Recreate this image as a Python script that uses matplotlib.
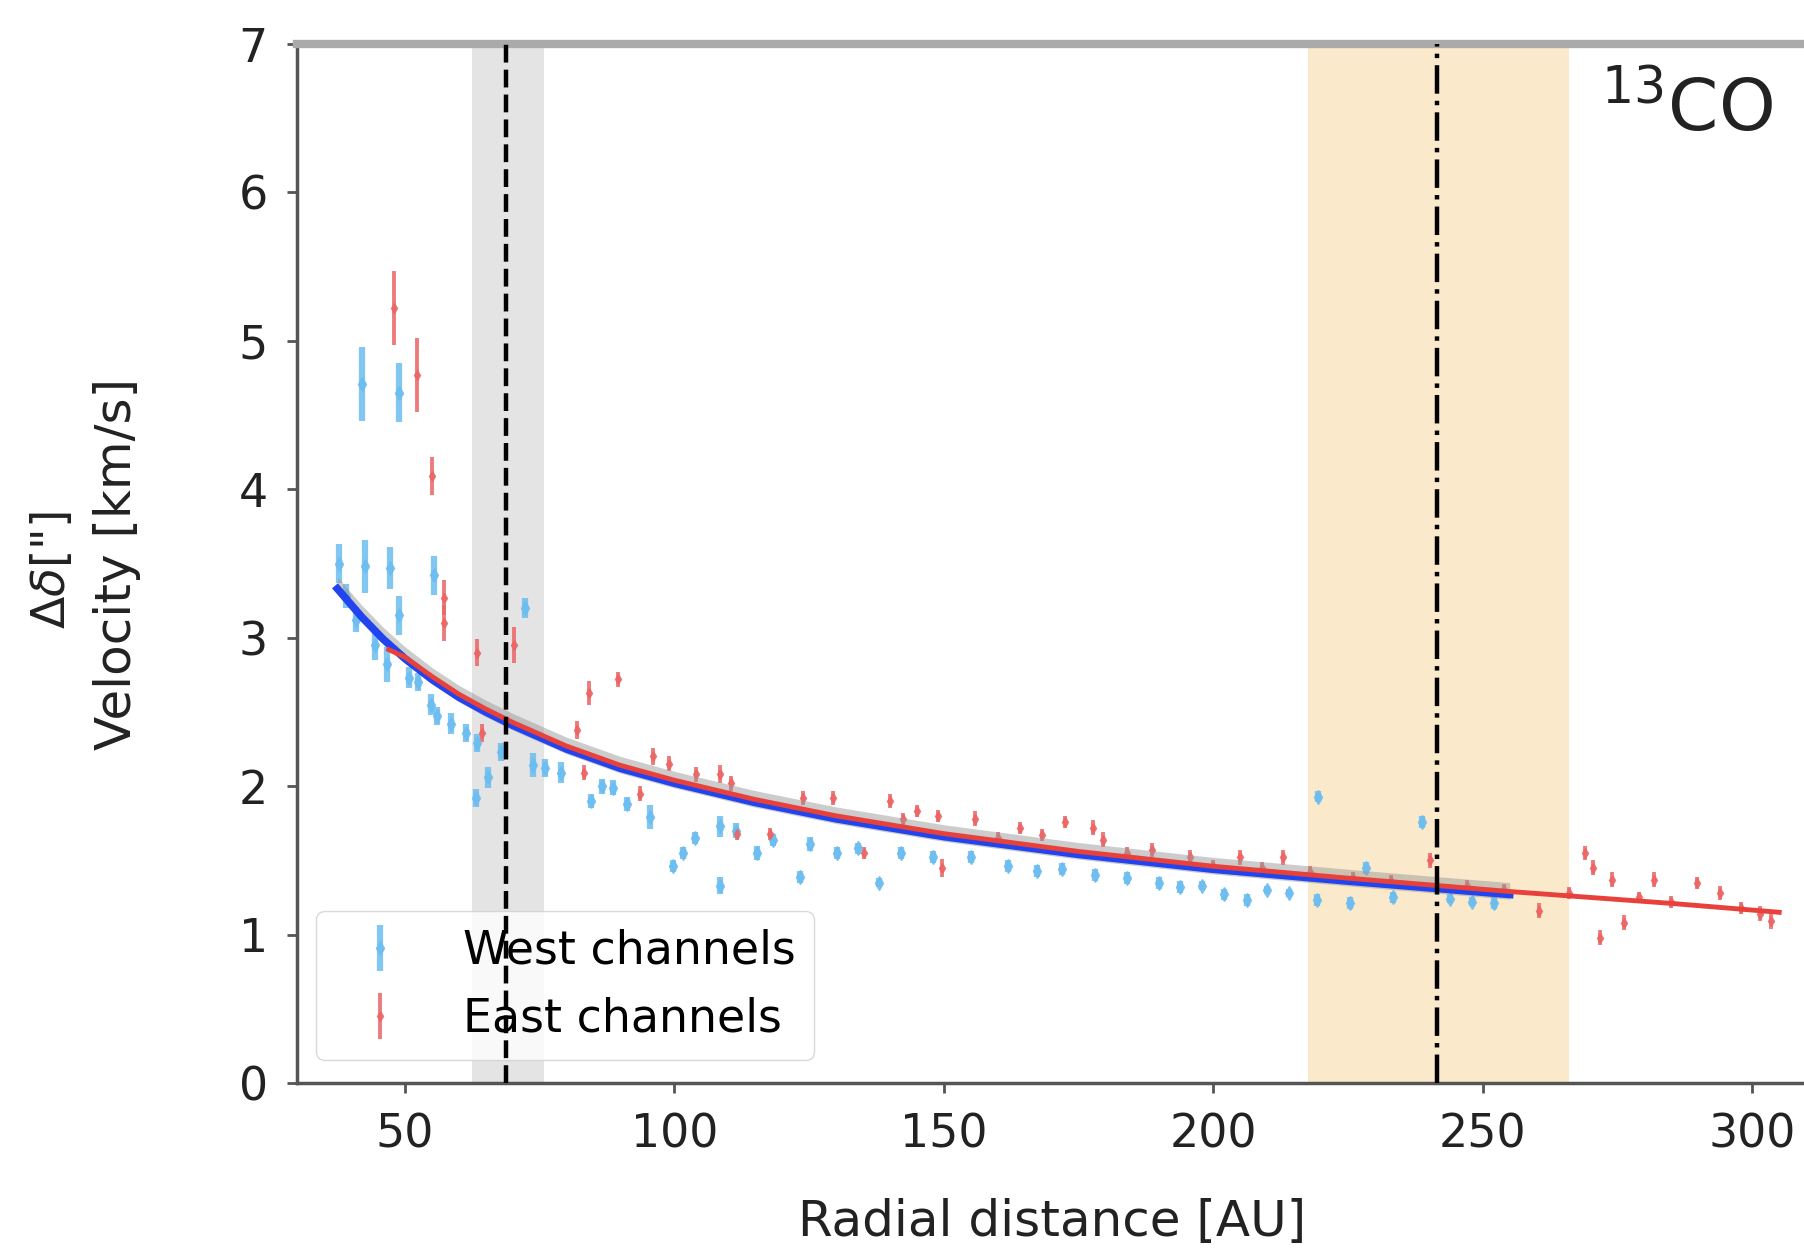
import matplotlib
matplotlib.use("Agg")
import matplotlib.pyplot as plt

plt.rcParams['font.family'] = ['DejaVu Sans']

# West channels: radius [AU], velocity [km/s], error
west_r = [37.8, 39.0, 41.0, 42.1, 42.6, 44.5, 46.7, 47.2, 48.9, 48.9, 50.8, 52.5, 54.8, 55.5,
          56.0, 58.6, 61.3, 63.2, 63.4, 65.4, 67.8, 72.3, 73.7, 76.0, 79.0, 84.6, 86.5, 88.6,
          91.3, 95.5, 99.8, 101.6, 103.8, 108.5, 108.5, 111.5, 115.3, 118.4, 123.3, 125.2,
          130.2, 134.0, 137.9, 142.0, 148.0, 155.0, 162.0, 167.3, 172.0, 178.0, 184.0, 190.0,
          193.8, 198.0, 202.0, 206.2, 210.0, 214.0, 219.4, 219.2, 225.4, 228.4, 233.3, 238.7,
          244.0, 248.0, 252.0]
west_v = [3.50, 3.28, 3.12, 4.71, 3.48, 2.95, 2.82, 3.47, 4.65, 3.15, 2.73, 2.70, 2.55, 3.42,
          2.47, 2.42, 2.36, 1.92, 2.29, 2.06, 2.23, 3.20, 2.14, 2.12, 2.09, 1.90, 2.00, 1.99,
          1.88, 1.79, 1.46, 1.55, 1.65, 1.73, 1.33, 1.70, 1.55, 1.64, 1.39, 1.61,
          1.55, 1.58, 1.35, 1.55, 1.52, 1.52, 1.46, 1.43, 1.44, 1.40, 1.38, 1.35,
          1.32, 1.33, 1.27, 1.23, 1.30, 1.28, 1.93, 1.23, 1.21, 1.45, 1.25, 1.76,
          1.24, 1.22, 1.21]
west_err = [0.13, 0.08, 0.08, 0.25, 0.18, 0.10, 0.12, 0.14, 0.20, 0.13, 0.07, 0.06, 0.07, 0.13,
            0.06, 0.07, 0.06, 0.06, 0.06, 0.07, 0.06, 0.07, 0.08, 0.06, 0.07, 0.05, 0.05, 0.05,
            0.05, 0.08, 0.04, 0.04, 0.04, 0.07, 0.06, 0.05, 0.05, 0.04, 0.04, 0.05,
            0.04, 0.04, 0.03, 0.04, 0.04, 0.04, 0.04, 0.04, 0.04, 0.04, 0.04, 0.04,
            0.04, 0.03, 0.04, 0.04, 0.03, 0.03, 0.04, 0.04, 0.04, 0.04, 0.04, 0.04,
            0.03, 0.03, 0.04]

# East channels
east_r = [48.0, 52.3, 55.0, 57.3, 57.3, 63.4, 64.3, 70.3, 82.0, 83.2, 84.2, 89.6, 93.6, 96.0,
          99.0, 104.0, 108.5, 110.5, 111.6, 117.8, 123.9, 129.4, 135.2, 140.0, 142.4, 145.0,
          148.9, 149.7, 155.8, 160.0, 164.1, 168.2, 172.5, 177.7, 179.5, 184.0, 188.7, 195.7,
          200.0, 205.0, 209.0, 212.9, 218.0, 226.0, 233.0, 240.3, 247.0, 254.0, 260.4, 266.0,
          269.0, 270.4, 271.7, 274.0, 276.2, 279.0, 281.8, 285.0, 289.7, 294.0, 298.0, 301.5,
          303.5]
east_v = [5.22, 4.77, 4.09, 3.27, 3.10, 2.90, 2.36, 2.95, 2.38, 2.09, 2.63, 2.72, 1.95, 2.20,
          2.15, 2.08, 2.08, 2.02, 1.68, 1.68, 1.92, 1.92, 1.55, 1.90, 1.78, 1.83,
          1.80, 1.45, 1.78, 1.65, 1.72, 1.67, 1.76, 1.72, 1.64, 1.55, 1.57, 1.52,
          1.46, 1.52, 1.45, 1.52, 1.42, 1.38, 1.36, 1.50, 1.33, 1.30, 1.16, 1.28,
          1.55, 1.45, 0.98, 1.37, 1.08, 1.25, 1.37, 1.22, 1.35, 1.28, 1.18, 1.14,
          1.09]
east_err = [0.25, 0.25, 0.13, 0.12, 0.12, 0.09, 0.06, 0.12, 0.06, 0.05, 0.08, 0.05, 0.05, 0.06,
            0.05, 0.05, 0.06, 0.05, 0.04, 0.04, 0.05, 0.05, 0.04, 0.05, 0.04, 0.04,
            0.04, 0.06, 0.05, 0.04, 0.04, 0.04, 0.04, 0.05, 0.05, 0.04, 0.05, 0.05,
            0.04, 0.05, 0.04, 0.05, 0.04, 0.04, 0.04, 0.05, 0.04, 0.04, 0.05, 0.04,
            0.05, 0.05, 0.05, 0.05, 0.05, 0.04, 0.05, 0.04, 0.04, 0.05, 0.04, 0.05,
            0.05]

# Keplerian fits
fit_west_r = [37.5, 42, 46, 50, 55, 60, 65, 70, 80, 90, 100, 115, 130, 150, 175, 200, 225, 255]
fit_west_v = [3.33, 3.14, 2.99, 2.86, 2.72, 2.60, 2.50, 2.41, 2.25, 2.12, 2.02, 1.89, 1.78,
              1.66, 1.54, 1.44, 1.36, 1.27]
fit_east_r = [47, 50, 55, 60, 65, 70, 80, 90, 100, 115, 130, 150, 175, 200, 225, 255, 270, 285, 305]
fit_east_v = [2.92, 2.87, 2.74, 2.62, 2.52, 2.43, 2.27, 2.14, 2.04, 1.91, 1.80, 1.68, 1.56,
              1.46, 1.38, 1.29, 1.25, 1.21, 1.15]
band = 0.08

# ring / gap positions
gap_r, gap_lo, gap_hi = 68.8, 62.4, 75.8
ring_r, ring_lo, ring_hi = 241.5, 217.6, 266.0

fig = plt.figure(figsize=(18.04, 12.51), dpi=100)
ax = fig.add_axes([297 / 1804, 168 / 1251, 1 - 297 / 1804, 1039 / 1251])

ax.axvspan(gap_lo, gap_hi, color='#e4e4e4', lw=0, zorder=0)
ax.axvspan(ring_lo, ring_hi, color='#fae9cb', lw=0, zorder=0)

ax.errorbar(west_r, west_v, yerr=west_err, fmt='d', ms=7, color='#6cbdf0', elinewidth=4.5,
            alpha=0.85, label='West channels', zorder=2)
ax.errorbar(east_r, east_v, yerr=east_err, fmt='d', ms=5.5, color='#ec6464', elinewidth=2.8,
            alpha=0.85, label='East channels', zorder=2)

lo = [v - band * 0.4 for v in fit_west_v]
hi = [v + band for v in fit_west_v]
ax.fill_between(fit_west_r, lo, hi, color='#9a9a9a', alpha=0.5, lw=0, zorder=3)
ax.plot(fit_west_r, fit_west_v, color='#2244ee', lw=5.5, zorder=4)
ax.plot(fit_east_r, fit_east_v, color='#e8403a', lw=3.5, zorder=5)

ax.axvline(gap_r, color='black', ls='--', lw=3.2, dashes=(4, 1.6), zorder=6)
ax.axvline(ring_r, color='black', ls='-.', lw=3.2, zorder=6)

ax.text(288, 6.55, r'$^{13}$CO', fontsize=52, ha='center', va='center', color='#222222')

ax.set_xlim(30, 309.6)
ax.set_ylim(0, 7)
ax.set_xticks([50, 100, 150, 200, 250, 300])
ax.set_yticks(range(8))
ax.tick_params(labelsize=33, length=7, width=2, color='#555555', labelcolor='#222222', pad=14)

ax.spines['right'].set_visible(False)
ax.spines['top'].set_color('#aaaaaa')
ax.spines['top'].set_linewidth(6)
for side in ['left', 'bottom']:
    ax.spines[side].set_color('#555555')
    ax.spines[side].set_linewidth(2.5)

leg = ax.legend(loc='lower left', bbox_to_anchor=(0.0126, 0.022), borderaxespad=0,
                fontsize=33, frameon=True, fancybox=True)
leg.get_frame().set_edgecolor('#d0d0d0')

fig.text(1052 / 1804, 1 - 1222 / 1251, 'Radial distance [AU]', fontsize=36,
         ha='center', va='center', color='#222222')
fig.text(117 / 1804, 1 - 564 / 1251, 'Velocity [km/s]', fontsize=36, rotation=90,
         ha='center', va='center', color='#222222')
fig.text(52 / 1804, 1 - 570 / 1251, r'$\Delta\delta$["]', fontsize=34, rotation=90,
         ha='center', va='center', color='#222222')

fig.savefig('out.png', dpi=100)
